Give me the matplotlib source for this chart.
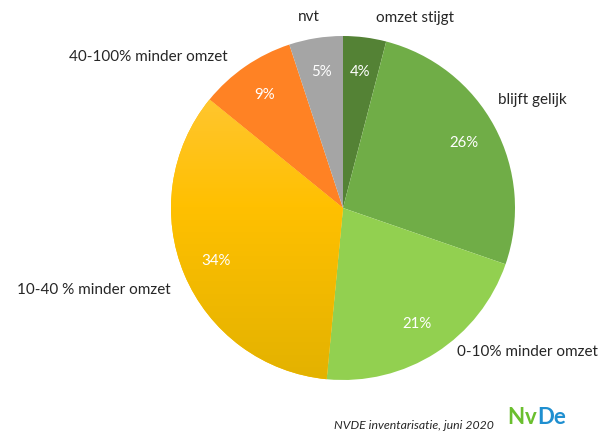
import numpy as np
import matplotlib.pyplot as plt
from matplotlib.colors import LinearSegmentedColormap

plt.rcParams['font.family'] = ['Lato', 'DejaVu Sans']

# data
categories = ['omzet stijgt', 'blijft gelijk', '0-10% minder omzet',
              '10-40 % minder omzet', '40-100% minder omzet', 'nvt']
values = [4, 26, 21, 34, 9, 5]
colors = ['#548235', '#70ad47', '#92d050', '#ffc000', '#ff8224', '#a5a5a5']

W, H = 601, 436
fig = plt.figure(figsize=(W / 100, H / 100), dpi=100)
ax = fig.add_axes([0, 0, 1, 1])

cx, cy, R = 343, H - 208, 172
wedges, _ = ax.pie(values, colors=colors, startangle=90, counterclock=False,
                   center=(cx, cy), radius=R, normalize=True,
                   wedgeprops=dict(linewidth=0))

# gradient fill on the 34% slice
gw = wedges[3]
grad = np.linspace(0, 1, 256).reshape(-1, 1)
cmap = LinearSegmentedColormap.from_list('g', ['#e3b200', '#ffc000', '#ffc94a'])
im = ax.imshow(grad, cmap=cmap, origin='lower', aspect='auto',
               extent=(cx - R, cx + R, cy - R, cy + R), zorder=1.5)
im.set_clip_path(gw)

# percentage labels
total = sum(values)
start = 90.0
for v in values:
    mid = np.deg2rad(start - v / total * 360 / 2)
    start -= v / total * 360
    r = 0.8 * R
    ax.text(cx + r * np.cos(mid), cy + r * np.sin(mid), f'{v}%',
            color='white', fontsize=10.8, ha='center', va='center', zorder=3)

# category labels
label_pos = [(415, 18), (532, 100), (527, 352), (94, 290), (148, 57), (309, 17)]
for name, (x, y) in zip(categories, label_pos):
    ax.text(x, H - y, name, fontsize=11, color='#262626',
            ha='center', va='center')

ax.text(494, H - 425, 'NVDE inventarisatie, juni 2020', fontsize=8.8,
        style='italic', color='#262626', ha='right', va='center')
ax.text(507, H - 417, 'N', fontsize=16, color='#6abf2e', fontweight='bold',
        ha='left', va='center')
ax.text(525, H - 417, 'v', fontsize=16, color='#6abf2e', fontweight='bold',
        ha='left', va='center')
ax.text(537, H - 417, 'De', fontsize=16, color='#1f8fd0', fontweight='bold',
        ha='left', va='center')

ax.set_xlim(0, W)
ax.set_ylim(0, H)
ax.set_aspect('auto')
ax.axis('off')

fig.savefig('out.png', dpi=100)
